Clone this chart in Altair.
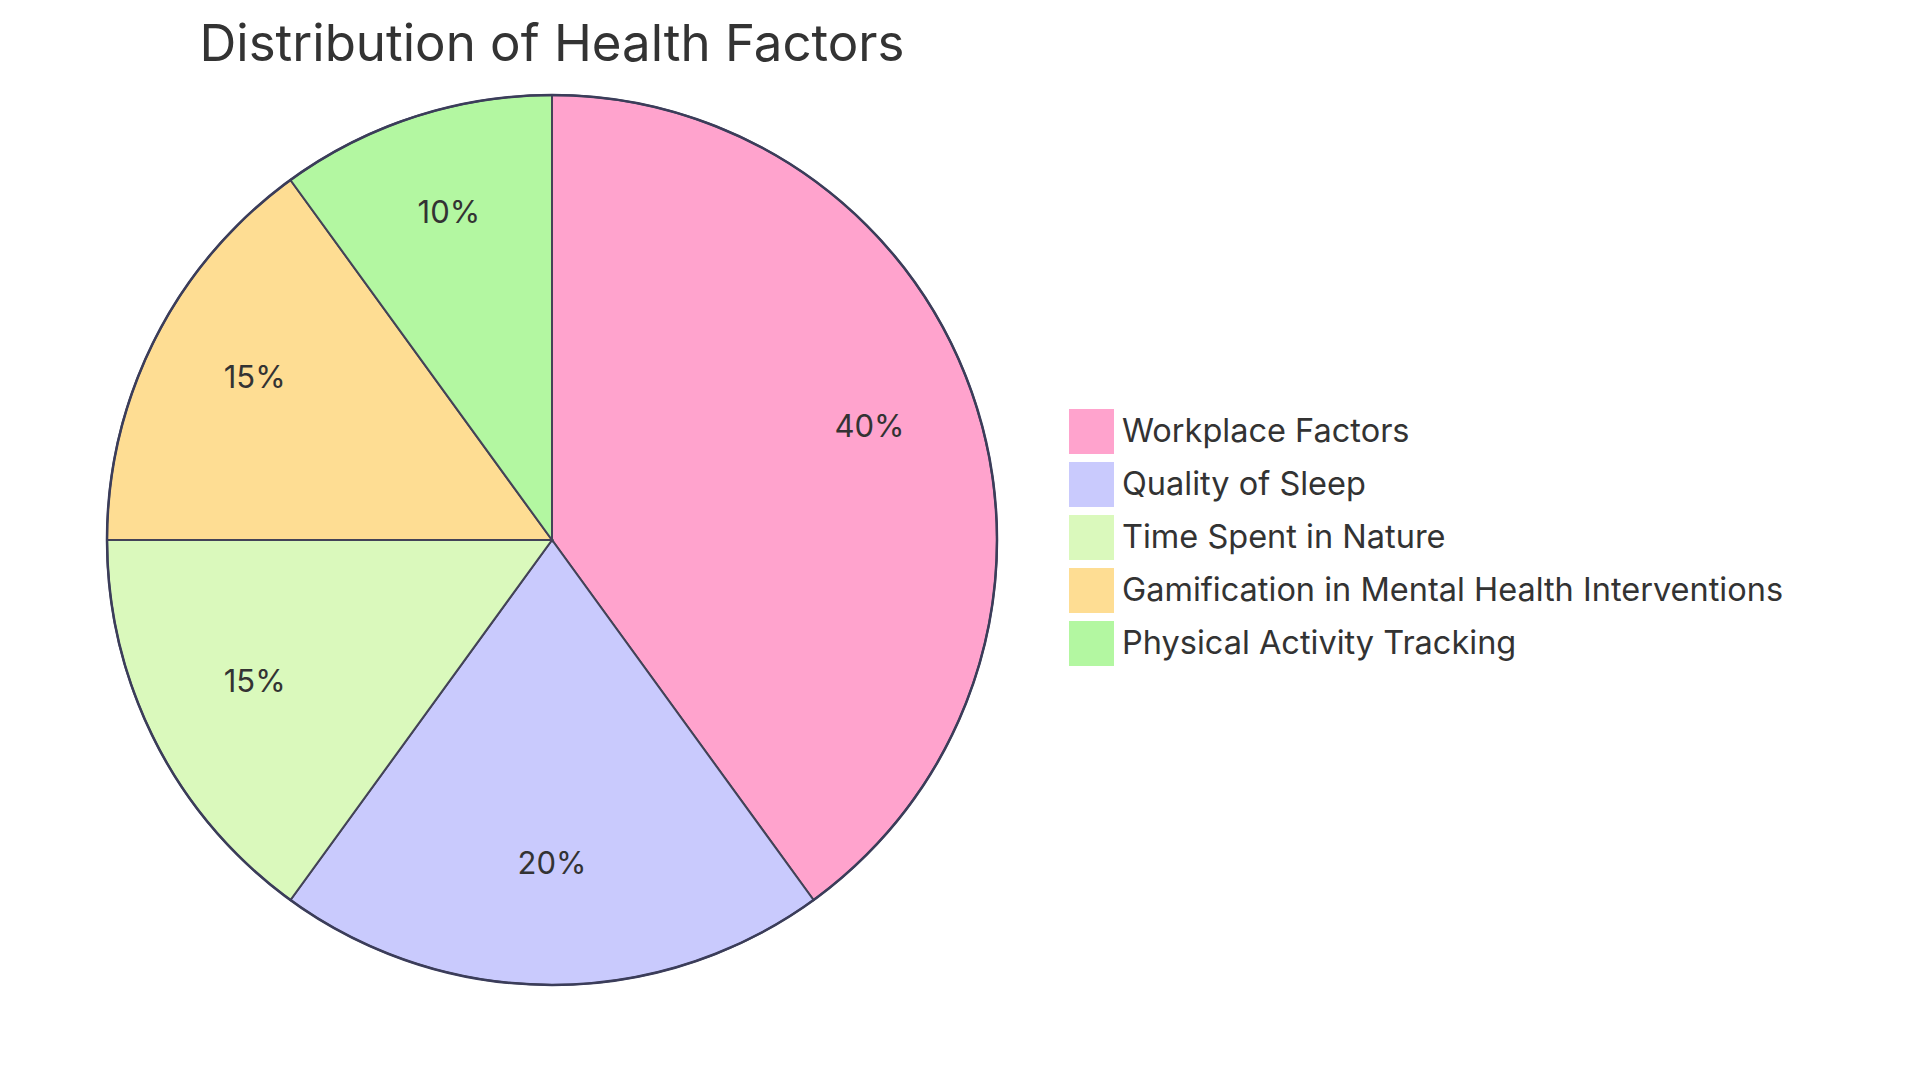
import altair as alt
import pandas as pd

categories = ["Workplace Factors", "Quality of Sleep", "Time Spent in Nature",
              "Gamification in Mental Health Interventions", "Physical Activity Tracking"]
values = [40, 20, 15, 15, 10]
labels = ["40%", "20%", "15%", "15%", "10%"]
colors = ["#FFA3CD", "#C9CAFD", "#DAF9BC", "#FEDD93", "#B3F7A1"]
title_text = "Distribution of Health Factors"

df = pd.DataFrame({"category": categories, "value": values, "label": labels,
                   "order": list(range(len(categories)))})

CX, CY, R = 552, 540, 445
FONT = "Inter"

color_scale = alt.Scale(domain=categories, range=colors)

base = alt.Chart(df).encode(
    theta=alt.Theta("value:Q", stack=True),
    order=alt.Order("order:Q"),
)

arcs = base.mark_arc(outerRadius=R, stroke="#434357", strokeWidth=2, opacity=1).encode(
    x=alt.value(CX), y=alt.value(CY),
    color=alt.Color("category:N", scale=color_scale, sort=categories,
                    legend=alt.Legend(title=None, orient="none", legendX=1069, legendY=409,
                                      symbolType="square", symbolSize=2025,
                                      symbolStrokeWidth=0, symbolOpacity=1,
                                      labelFont=FONT, labelFontSize=32.5, labelColor="#333333",
                                      labelOffset=8, rowPadding=8, padding=0,
                                      labelLimit=1000)),
)

outline = alt.Chart(pd.DataFrame({"a": [0]})).mark_arc(
    outerRadius=R, innerRadius=R, fillOpacity=0, stroke="#3b3d5a", strokeWidth=2.5
).encode(x=alt.value(CX), y=alt.value(CY), theta=alt.value(0), theta2=alt.value(6.2832))

text = base.mark_text(radius=0.75 * R, font=FONT, fontSize=31, color="#333333",
                      baseline="alphabetic", align="center").encode(
    x=alt.value(CX), y=alt.value(CY), text="label:N")

title = alt.Chart(pd.DataFrame({"t": [title_text]})).mark_text(
    font=FONT, fontSize=51, color="#333333", baseline="alphabetic", align="center"
).encode(x=alt.value(CX), y=alt.value(61), text="t:N")

chart = alt.layer(arcs, outline, text, title).properties(
    width=1920, height=1080, autosize=alt.AutoSizeParams(type="none"), padding=0
).configure_view(stroke=None)

chart.save("out.html", embed_options={"renderer": "svg", "actions": False})
